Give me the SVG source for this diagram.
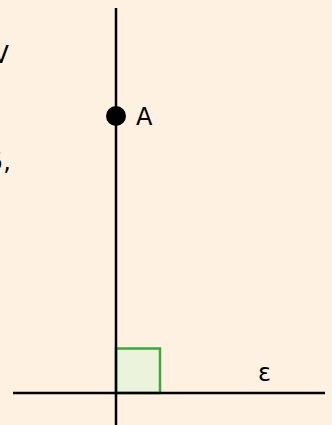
<svg xmlns="http://www.w3.org/2000/svg" width="332" height="425" viewBox="0 0 332 425">
<style>
.ln{stroke:#000;stroke-width:2.5;fill:none}
.t{font-family:"DejaVu Sans","Noto Sans",sans-serif;font-size:24px;fill:#000}
</style>
<rect width="332" height="425" fill="#fef1e1"/>
<text class="t" x="9" y="63" text-anchor="end">V</text>
<text class="t" x="11" y="170" text-anchor="end">5,</text>
<g id="angle">
<rect x="116" y="348.5" width="44" height="44.5" fill="#ecf3dc" stroke="#3aaa35" stroke-width="2.5"/>
</g>
<g id="connectors">
<line class="ln" x1="116" y1="8" x2="116" y2="425"/>
<line class="ln" x1="13" y1="393" x2="325" y2="393"/>
</g>
<g id="A">
<circle cx="116" cy="116" r="10" fill="#000"/>
<text class="t" x="136" y="125">A</text>
</g>
<g id="epsilon">
<text class="t" x="258" y="381">ε</text>
</g>
</svg>
